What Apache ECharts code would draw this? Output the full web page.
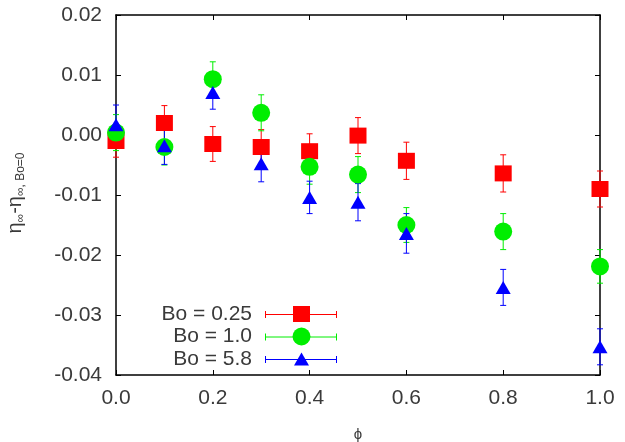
<!DOCTYPE html>
<html>
<head>
<meta charset="utf-8">
<script src="https://cdn.jsdelivr.net/npm/echarts@6/dist/echarts.min.js"></script>
<style>
  html, body { margin: 0; padding: 0; background: #fff; }
  #chart { width: 625px; height: 442px; }
</style>
</head>
<body>
<div id="chart"></div>
<script>
const phi = [0.0, 0.1, 0.2, 0.3, 0.4, 0.5, 0.6, 0.8, 1.0];

// Bo = 0.25
const bo025 = [-0.001, 0.002, -0.0015, -0.002, -0.0027, -0.0001, -0.0043, -0.0064, -0.009];
const bo025Err = [0.0027, 0.0029, 0.0029, 0.0029, 0.0029, 0.003, 0.0031, 0.0031, 0.003];
// Bo = 1.0
const bo10 = [0.0004, -0.002, 0.0093, 0.0037, -0.0053, -0.0066, -0.015, -0.0161, -0.0219];
const bo10Err = [0.003, 0.003, 0.0029, 0.003, 0.0029, 0.003, 0.0029, 0.003, 0.0028];
// Bo = 5.8
const bo58 = [0.0017, -0.0018, 0.0071, -0.0048, -0.0104, -0.0112, -0.0164, -0.0254, -0.0353];
const bo58Err = [0.0033, 0.0031, 0.0028, 0.003, 0.0027, 0.0031, 0.0033, 0.003, 0.003];

const xTicks = [0, 0.2, 0.4, 0.6, 0.8, 1.0];
const yTicks = [-0.04, -0.03, -0.02, -0.01, 0, 0.01, 0.02];

const FONT = '"Liberation Sans", Arial, sans-serif';
const TEXT = '#3a3a3a';

const groups = [
  { name: 'Bo = 0.25', y: bo025, err: bo025Err, color: '#ff0000', symbol: 'rect', size: [17, 16] },
  { name: 'Bo = 1.0', y: bo10, err: bo10Err, color: '#00ee00', symbol: 'circle', size: 18 },
  { name: 'Bo = 5.8', y: bo58, err: bo58Err, color: '#0000ff', symbol: 'triangle', size: [15, 13] },
];

function errorBars(g) {
  return {
    type: 'custom',
    name: g.name,
    data: phi.map((x, i) => [x, g.y[i] - g.err[i], g.y[i] + g.err[i]]),
    renderItem(params, api) {
      const lo = api.coord([api.value(0), api.value(1)]);
      const hi = api.coord([api.value(0), api.value(2)]);
      const cap = 3;
      const style = { stroke: g.color, lineWidth: 1 };
      return {
        type: 'group',
        children: [
          { type: 'line', shape: { x1: lo[0], y1: lo[1], x2: hi[0], y2: hi[1] }, style },
          { type: 'line', shape: { x1: lo[0] - cap, y1: lo[1], x2: lo[0] + cap, y2: lo[1] }, style },
          { type: 'line', shape: { x1: hi[0] - cap, y1: hi[1], x2: hi[0] + cap, y2: hi[1] }, style },
        ],
      };
    },
    encode: { x: 0, y: [1, 2] },
    silent: true,
  };
}

function markers(g) {
  return {
    type: 'scatter',
    name: g.name,
    data: phi.map((x, i) => [x, g.y[i]]),
    symbol: g.symbol,
    symbolSize: g.size,
    itemStyle: { color: g.color, opacity: 1 },
    silent: true,
  };
}

const series = [];
groups.forEach((g) => {
  series.push(errorBars(g));
  series.push(markers(g));
});

// legend drawn inside the plot, text left of the sample
const legendRows = [314, 336.5, 359];
const legendGraphics = [];
groups.forEach((g, i) => {
  const y = legendRows[i];
  legendGraphics.push({
    type: 'text', x: 252, y: y,
    style: { text: g.name, font: '21px ' + FONT, fill: TEXT, textAlign: 'right', textVerticalAlign: 'middle' },
  });
  const ls = { stroke: g.color, lineWidth: 1 };
  legendGraphics.push({ type: 'line', shape: { x1: 265, y1: y + 0.5, x2: 337, y2: y + 0.5 }, style: ls });
  legendGraphics.push({ type: 'line', shape: { x1: 265.5, y1: y - 3, x2: 265.5, y2: y + 4 }, style: ls });
  legendGraphics.push({ type: 'line', shape: { x1: 336.5, y1: y - 3, x2: 336.5, y2: y + 4 }, style: ls });
  let mark;
  if (g.symbol === 'rect') {
    mark = { type: 'rect', shape: { x: 293, y: y - 8, width: 17, height: 16 } };
  } else if (g.symbol === 'circle') {
    mark = { type: 'circle', shape: { cx: 301.5, cy: y, r: 9 } };
  } else {
    mark = { type: 'polygon', shape: { points: [[301.5, y - 6.5], [309, y + 6.5], [294, y + 6.5]] } };
  }
  mark.style = { fill: g.color };
  legendGraphics.push(mark);
});

const axisLine = { show: true, onZero: false, lineStyle: { color: '#000', width: 1.5 } };
const axisTick = { show: true, inside: true, length: 5, lineStyle: { color: '#000', width: 1 } };

const chart = echarts.init(document.getElementById('chart'), null, { renderer: 'canvas' });
chart.setOption({
  animation: false,
  backgroundColor: '#fff',
  grid: { left: 116, right: 25, top: 15, bottom: 67, containLabel: false, outerBoundsMode: 'none' },
  xAxis: [
    {
      type: 'value', min: 0, max: 1, interval: 0.2,
      axisLine, axisTick,
      splitLine: { show: false },
      axisLabel: {
        margin: 13, fontSize: 21, fontFamily: FONT, color: TEXT,
        formatter: (v) => v.toFixed(1),
      },
      name: 'ϕ',
      nameLocation: 'middle',
      nameGap: 52,
      nameTextStyle: { fontSize: 15, fontFamily: FONT, color: TEXT, verticalAlign: 'top' },
    },
    {
      type: 'value', min: 0, max: 1, interval: 0.2, position: 'top',
      axisLine, axisTick,
      splitLine: { show: false },
      axisLabel: { show: false },
    },
  ],
  yAxis: [
    {
      type: 'value', min: -0.04, max: 0.02, interval: 0.01,
      axisLine, axisTick,
      splitLine: { show: false },
      axisLabel: {
        margin: 14, fontSize: 21, fontFamily: FONT, color: TEXT,
        formatter: (v) => v.toFixed(2),
      },
      name: '{a|η}{b|∞}{a|-η}{b|∞, Bo=0}',
      nameLocation: 'middle',
      nameGap: 89,
      nameRotate: 90,
      nameTextStyle: {
        color: TEXT,
        padding: [0, 0, 0, 4],
        rich: {
          a: { fontSize: 20, fontFamily: FONT, color: TEXT, lineHeight: 22, verticalAlign: 'top' },
          b: { fontSize: 12, fontFamily: FONT, color: TEXT, lineHeight: 22, verticalAlign: 'bottom', padding: [8, 0, 0, 0] },
        },
      },
    },
    {
      type: 'value', min: -0.04, max: 0.02, interval: 0.01, position: 'right',
      axisLine, axisTick,
      splitLine: { show: false },
      axisLabel: { show: false },
    },
  ],
  graphic: legendGraphics,
  series,
});
</script>
</body>
</html>
